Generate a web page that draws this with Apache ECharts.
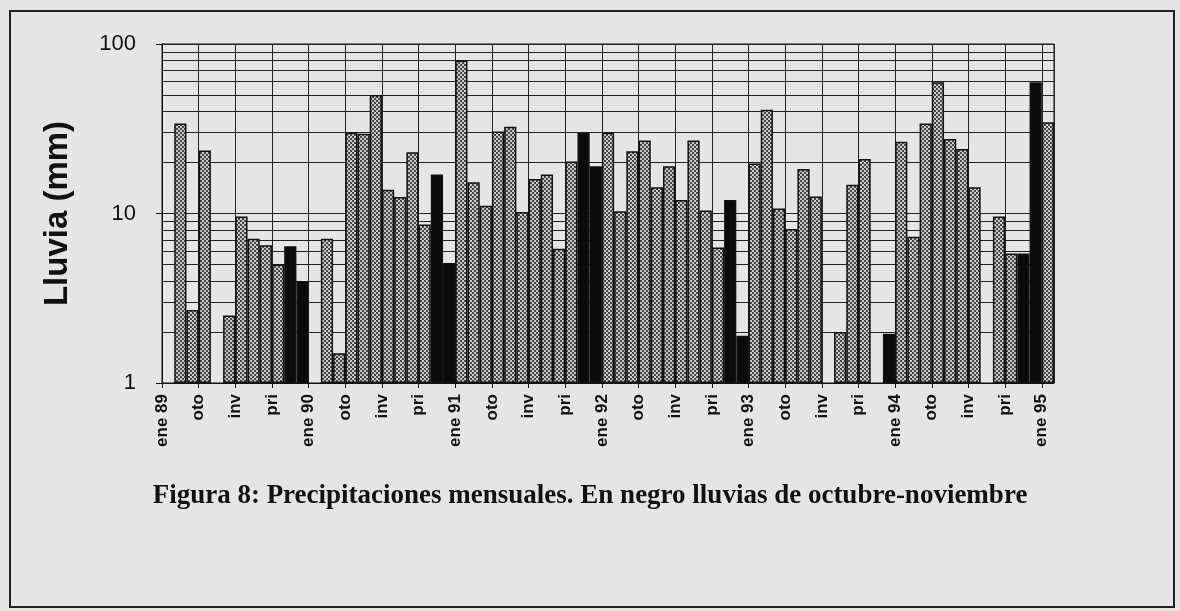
<!DOCTYPE html>
<html>
<head>
<meta charset="utf-8">
<script src="https://cdn.jsdelivr.net/npm/echarts@6/dist/echarts.min.js"></script>
<style>
html, body { margin: 0; padding: 0; background: #e5e5e5; }
#grafico { width: 1180px; height: 611px; }
</style>
</head>
<body>
<div id="grafico"></div>
<script>
// lluvia mensual (mm) desde ene 89, '-' = mes sin lluvia
let lluvia = [
  '-', 34, 2.7, 23.5, '-', 2.5, 9.6, 7.1, 6.5, 5.0, 6.4, 4.0,
  '-', 7.1, 1.5, 30, 29.5, 50, 13.8, 12.5, 23, 8.6, 17, 5.1,
  80, 15.3, 11.1, 30.5, 32.5, 10.2, 16, 17, 6.2, 20.3, 30, 19,
  30, 10.3, 23.3, 27, 14.3, 19, 12, 27, 10.4, 6.3, 12, 1.9,
  19.7, 41, 10.7, 8.1, 18.3, 12.6, '-', 2.0, 14.8, 21, '-', 1.95,
  26.5, 7.3, 34, 59.5, 27.5, 24, 14.3, '-', 9.6, 5.8, 5.8, 59.5,
  34.5
];
// meses de octubre-noviembre (en negro)
let negros = [10, 11, 22, 23, 34, 35, 46, 47, 59, 70, 71];
let etiquetasX = [
  'ene 89', 'oto', 'inv', 'pri', 'ene 90', 'oto', 'inv', 'pri',
  'ene 91', 'oto', 'inv', 'pri', 'ene 92', 'oto', 'inv', 'pri',
  'ene 93', 'oto', 'inv', 'pri', 'ene 94', 'oto', 'inv', 'pri', 'ene 95'
];
let lineasMenores = [2, 3, 4, 5, 6, 7, 8, 9, 20, 30, 40, 50, 60, 70, 80, 90];
let nombresMes = ['ene', 'feb', 'mar', 'abr', 'may', 'jun', 'jul', 'ago', 'sep', 'oct', 'nov', 'dic'];

let meses = lluvia.map((v, i) => nombresMes[i % 12] + ' ' + (89 + Math.floor(i / 12)));

// trama gris punteada de las barras
function trama() {
  let c = document.createElement('canvas');
  c.width = 4;
  c.height = 4;
  let ctx = c.getContext('2d');
  ctx.fillStyle = '#c9c9c9';
  ctx.fillRect(0, 0, 4, 4);
  ctx.fillStyle = '#474747';
  ctx.fillRect(0, 0, 2, 2);
  ctx.fillRect(2, 2, 2, 2);
  return c;
}

let myChart = echarts.init(document.getElementById('grafico'));
let fuente = 'Liberation Sans, Arial, sans-serif';

let option = {
  backgroundColor: '#e5e5e5',
  animation: false,
  title: {
    text: 'Figura 8: Precipitaciones mensuales. En negro lluvias de octubre-noviembre',
    left: 'center',
    top: 478,
    textStyle: {
      fontFamily: 'Liberation Serif, Times New Roman, serif',
      fontWeight: 'bold',
      fontSize: 27,
      color: '#111'
    }
  },
  graphic: [
    {
      type: 'rect',
      silent: true,
      shape: {x: 10, y: 11, width: 1164, height: 596},
      style: {fill: 'none', stroke: '#222', lineWidth: 2}
    }
  ],
  grid: {
    left: 162,
    right: 126,
    top: 44,
    bottom: 228,
    show: true,
    borderColor: '#111',
    borderWidth: 1,
    backgroundColor: 'transparent'
  },
  xAxis: [
    {
      type: 'category',
      data: meses,
      show: false,
      boundaryGap: true
    },
    {
      type: 'value',
      position: 'bottom',
      min: 0,
      max: 73,
      interval: 3,
      axisLine: {show: true, onZero: false, lineStyle: {color: '#111', width: 1}},
      axisTick: {show: true, length: 5, lineStyle: {color: '#111'}},
      axisLabel: {
        rotate: 90,
        margin: 11,
        fontSize: 17,
        fontWeight: 'bold',
        fontFamily: fuente,
        color: '#111',
        showMaxLabel: false,
        formatter: (v) => etiquetasX[v / 3] || ''
      },
      splitLine: {show: true, lineStyle: {color: '#222', width: 1}}
    }
  ],
  yAxis: {
    type: 'log',
    logBase: 10,
    min: 1,
    max: 100,
    name: 'Lluvia (mm)',
    nameLocation: 'middle',
    nameRotate: 90,
    nameGap: 88,
    nameTextStyle: {fontSize: 33, fontWeight: 'bold', fontFamily: fuente, color: '#111'},
    axisLine: {show: true, lineStyle: {color: '#111', width: 1}},
    axisTick: {show: true, length: 6, lineStyle: {color: '#111'}},
    axisLabel: {fontSize: 22, fontFamily: fuente, color: '#111', margin: 26},
    splitLine: {show: true, lineStyle: {color: '#222', width: 1}}
  },
  series: [
    {
      name: 'Lluvia',
      type: 'bar',
      xAxisIndex: 0,
      yAxisIndex: 0,
      barCategoryGap: 0,
      itemStyle: {
        color: {image: trama(), repeat: 'repeat'},
        borderColor: '#111',
        borderWidth: 1.5
      },
      emphasis: {disabled: true},
      data: lluvia.map((v, i) => negros.includes(i) ? {value: v, itemStyle: {color: '#0a0a0a'}} : v),
      markLine: {
        silent: true,
        z: 1,
        symbol: 'none',
        label: {show: false},
        emphasis: {disabled: true},
        lineStyle: {color: '#222', width: 1, type: 'solid'},
        data: lineasMenores.map((v) => ({yAxis: v}))
      }
    }
  ]
};

myChart.setOption(option);
</script>
</body>
</html>
